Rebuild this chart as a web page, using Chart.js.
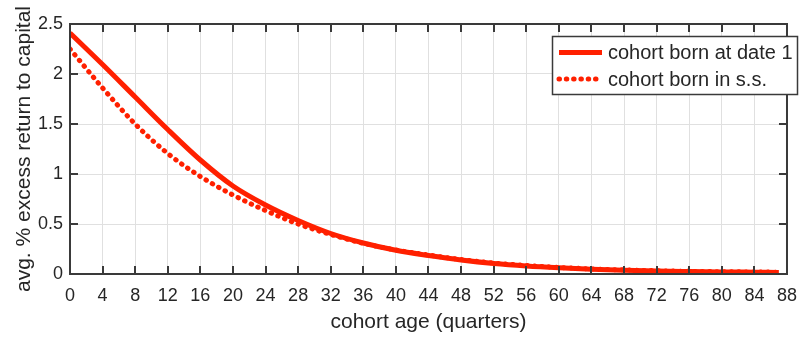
<!DOCTYPE html>
<html>
<head>
<meta charset="utf-8">
<script src="https://cdn.jsdelivr.net/npm/chart.js@4"></script>
<style>
  html, body { margin: 0; padding: 0; background: #fff; }
  #wrap { width: 808px; height: 337px; }
</style>
</head>
<body>
<div id="wrap"><canvas id="returnChart"></canvas></div>
<script>
// cohort age in quarters and average excess return (%)
const quarters = [0, 4, 8, 12, 16, 20, 24, 28, 32, 36, 40, 44, 48, 52, 56, 60, 64, 68, 72, 76, 80, 84, 87];
const bornDate1 = [2.41, 2.095, 1.77, 1.445, 1.14, 0.88, 0.69, 0.535, 0.405, 0.31, 0.237, 0.185, 0.14, 0.105, 0.08, 0.062, 0.048, 0.038, 0.03, 0.025, 0.021, 0.018, 0.016];
const bornSteady = [2.25, 1.86, 1.50, 1.205, 0.975, 0.79, 0.635, 0.50, 0.395, 0.307, 0.24, 0.19, 0.145, 0.11, 0.085, 0.066, 0.051, 0.041, 0.033, 0.027, 0.023, 0.02, 0.018];
const seriesNames = ['cohort born at date 1', 'cohort born in s.s.'];

const FONT = "'Liberation Sans', Arial, sans-serif";
const INK = '#262626';
const RED = '#ff2000';

const toPoints = (ys) => quarters.map((q, i) => ({ x: q, y: ys[i] }));

// box round the plot with ticks pointing inwards
const axisBox = {
    id: 'axisBox',
    afterDatasetsDraw(chart) {
        const { ctx, chartArea: a, scales } = chart;
        const len = 8;
        ctx.save();
        ctx.strokeStyle = '#3a3a3a';
        ctx.lineWidth = 2;
        ctx.strokeRect(a.left, a.top, a.right - a.left, a.bottom - a.top);
        ctx.beginPath();
        scales.x.ticks.forEach(t => {
            const px = Math.round(scales.x.getPixelForValue(t.value));
            ctx.moveTo(px, a.bottom); ctx.lineTo(px, a.bottom - len);
            ctx.moveTo(px, a.top); ctx.lineTo(px, a.top + len);
        });
        scales.y.ticks.forEach(t => {
            const py = Math.round(scales.y.getPixelForValue(t.value));
            ctx.moveTo(a.left, py); ctx.lineTo(a.left + len, py);
            ctx.moveTo(a.right, py); ctx.lineTo(a.right - len, py);
        });
        ctx.stroke();
        ctx.restore();
    }
};

// legend box in the upper right corner
const boxLegend = {
    id: 'boxLegend',
    afterDraw(chart) {
        const { ctx } = chart;
        const x = 552.5, y = 36.5, w = 245, h = 58;
        ctx.save();
        ctx.fillStyle = '#fff';
        ctx.fillRect(x, y, w, h);
        ctx.strokeStyle = '#3a3a3a';
        ctx.lineWidth = 1.5;
        ctx.strokeRect(x, y, w, h);
        chart.data.datasets.forEach((ds, i) => {
            const cy = 52.5 + i * 26.5;
            ctx.beginPath();
            ctx.strokeStyle = ds.borderColor;
            ctx.lineWidth = ds.borderWidth;
            ctx.lineCap = ds.borderCapStyle || 'butt';
            ctx.setLineDash(ds.borderDash || []);
            ctx.moveTo(559, cy);
            ctx.lineTo(602, cy);
            ctx.stroke();
            ctx.setLineDash([]);
            ctx.fillStyle = INK;
            ctx.font = '20px ' + FONT;
            ctx.textBaseline = 'middle';
            ctx.fillText(ds.label, 608, cy + 1);
        });
        ctx.restore();
    }
};

new Chart(document.getElementById('returnChart'), {
    type: 'line',
    data: {
        datasets: [{
            label: seriesNames[0],
            data: toPoints(bornDate1),
            borderColor: RED,
            borderWidth: 5,
            pointRadius: 0,
            cubicInterpolationMode: 'monotone',
            fill: false
        }, {
            label: seriesNames[1],
            data: toPoints(bornSteady),
            borderColor: RED,
            borderWidth: 5,
            borderDash: [0.5, 6.8],
            borderCapStyle: 'round',
            pointRadius: 0,
            cubicInterpolationMode: 'monotone',
            fill: false
        }]
    },
    options: {
        responsive: true,
        maintainAspectRatio: false,
        animation: false,
        layout: { padding: { top: 24, right: 13, left: 0, bottom: 0 } },
        plugins: {
            legend: { display: false },
            tooltip: { enabled: false }
        },
        scales: {
            x: {
                type: 'linear',
                min: 0,
                max: 88,
                afterFit: (s) => { s.height = 63; },
                grid: { color: '#e0e0e0', drawTicks: false },
                border: { display: false },
                ticks: {
                    stepSize: 4,
                    autoSkip: false,
                    maxRotation: 0,
                    padding: 11,
                    color: INK,
                    font: { family: FONT, size: 18 }
                },
                title: {
                    display: true,
                    text: 'cohort age (quarters)',
                    color: INK,
                    font: { family: FONT, size: 21 },
                    padding: { top: 0, bottom: 2 }
                }
            },
            y: {
                min: 0,
                max: 2.5,
                afterFit: (s) => { s.width = 70; },
                grid: { color: '#e0e0e0', drawTicks: false },
                border: { display: false },
                ticks: {
                    stepSize: 0.5,
                    padding: 7,
                    color: INK,
                    font: { family: FONT, size: 18 },
                    callback: (v) => String(+v.toFixed(1))
                },
                title: {
                    display: true,
                    text: 'avg. % excess return to capital',
                    color: INK,
                    font: { family: FONT, size: 21 },
                    padding: { top: 12, bottom: 0 }
                }
            }
        }
    },
    plugins: [axisBox, boxLegend]
});
</script>
</body>
</html>
